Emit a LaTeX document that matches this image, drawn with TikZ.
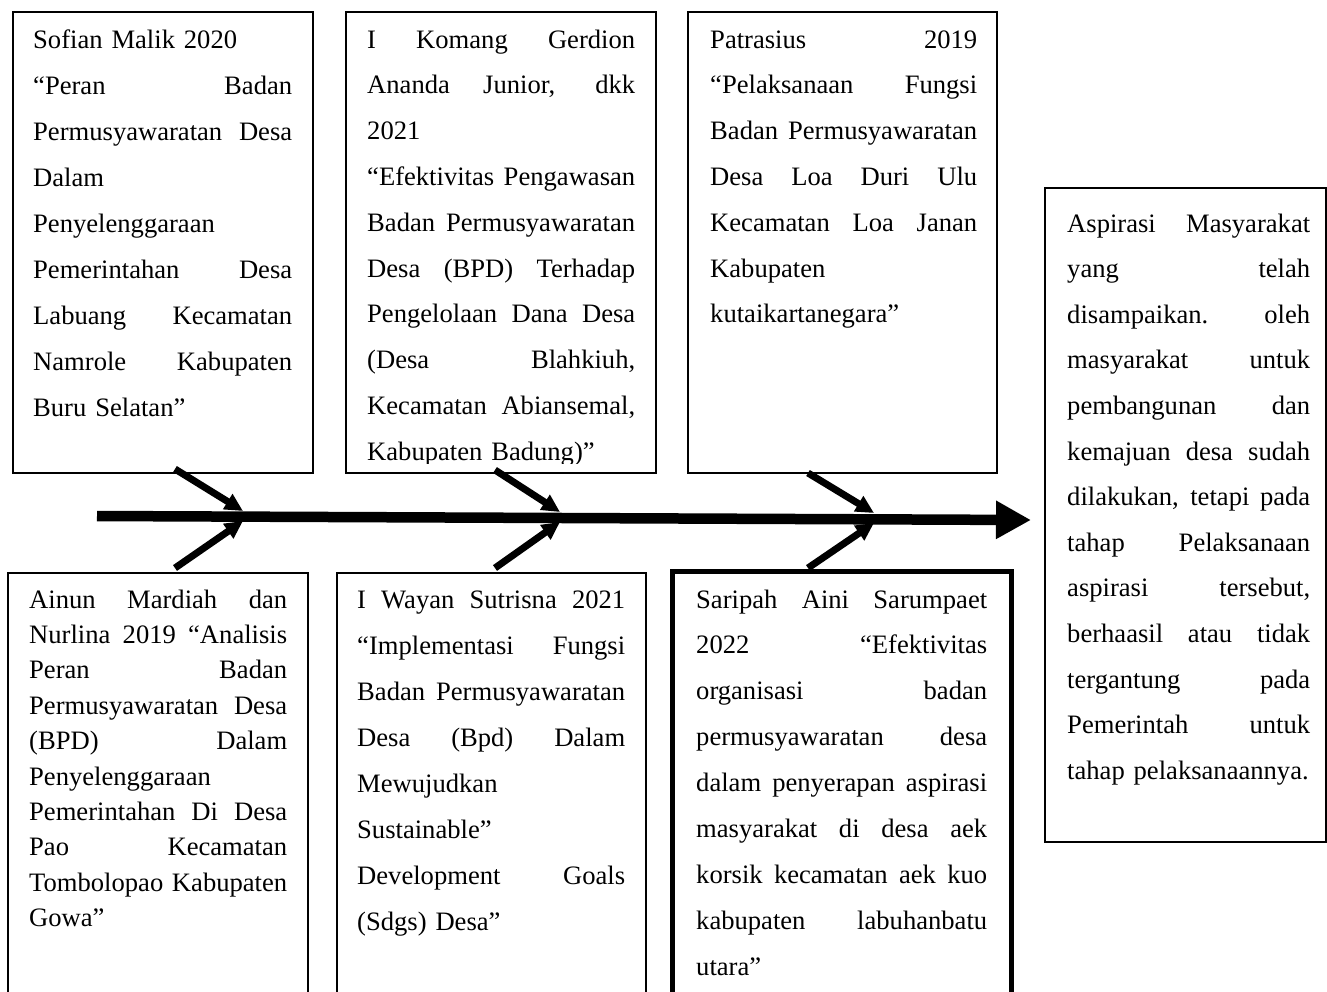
\documentclass[tikz,border=0pt]{standalone}
\usepackage{fontspec}
\setmainfont{Liberation Serif}
\usetikzlibrary{arrows.meta}
\newcommand{\J}[1]{{\spaceskip=0pt\xspaceskip=0pt\makebox[\hsize][s]{#1}}}
\tikzset{
  box/.style={draw=black,line width=1.5pt,fill=none},
  thickbox/.style={draw=black,line width=5pt,fill=none},
  txt/.style={anchor=base west,inner sep=0pt},
  bone/.style={line width=7pt,-{Triangle[length=18pt,width=17pt]}},
  spine/.style={line width=10.5pt,-{Triangle[length=35pt,width=36pt]}}
}
\begin{document}
\begin{tikzpicture}[x=1pt,y=-1pt]
\useasboundingbox (0,0) rectangle (1327,991);
\clip (0,0) rectangle (1327,991);
% boxes
\draw[box] (13,12) rectangle (313,473);
\draw[box] (346,12) rectangle (656,473);
\draw[box] (688,12) rectangle (997,473);
\draw[box] (8,573) rectangle (308,1010);
\draw[box] (337,573) rectangle (646,1010);
\draw[thickbox] (672,571) rectangle (1011,1010);
\draw[box] (1045,188) rectangle (1326,842);
% texts
\node[txt,text width=259pt,font=\fontsize{26.6}{46.1}\selectfont] (t1) at (33,48) {%
Sofian Malik 2020\\
\J{“Peran Badan}\\
\J{Permusyawaratan Desa}\\
Dalam\\
Penyelenggaraan\\
\J{Pemerintahan Desa}\\
\J{Labuang Kecamatan}\\
\J{Namrole Kabupaten}\\
Buru Selatan”};
\begin{scope}
\clip (346,12) rectangle (656,463);
\node[txt,text width=268pt,font=\fontsize{26.6}{45.8}\selectfont] (t2) at (367,48) {%
\J{I Komang Gerdion}\\
\J{Ananda Junior, dkk}\\
2021\\
\J{“Efektivitas Pengawasan}\\
\J{Badan Permusyawaratan}\\
\J{Desa (BPD) Terhadap}\\
\J{Pengelolaan Dana Desa}\\
\J{(Desa Blahkiuh,}\\
\J{Kecamatan Abiansemal,}\\
Kabupaten Badung)”};
\end{scope}
\node[txt,text width=267pt,font=\fontsize{26.6}{45.8}\selectfont] (t3) at (710,48) {%
\J{Patrasius 2019}\\
\J{“Pelaksanaan Fungsi}\\
\J{Badan Permusyawaratan}\\
\J{Desa Loa Duri Ulu}\\
\J{Kecamatan Loa Janan}\\
Kabupaten\\
kutaikartanegara”};
\node[txt,text width=258pt,font=\fontsize{26.6}{35.4}\selectfont] (t4) at (29,608) {%
\J{Ainun Mardiah dan}\\
\J{Nurlina 2019 “Analisis}\\
\J{Peran Badan}\\
\J{Permusyawaratan Desa}\\
\J{(BPD) Dalam}\\
Penyelenggaraan\\
\J{Pemerintahan Di Desa}\\
\J{Pao Kecamatan}\\
\J{Tombolopao Kabupaten}\\
Gowa”};
\node[txt,text width=268pt,font=\fontsize{26.6}{46}\selectfont] (t5) at (357,608) {%
\J{I Wayan Sutrisna 2021}\\
\J{“Implementasi Fungsi}\\
\J{Badan Permusyawaratan}\\
\J{Desa (Bpd) Dalam}\\
Mewujudkan\\
Sustainable”\\
\J{Development Goals}\\
(Sdgs) Desa”};
\node[txt,text width=291pt,font=\fontsize{26.6}{45.9}\selectfont] (t6) at (696,608) {%
\J{Saripah Aini Sarumpaet}\\
\J{2022 “Efektivitas}\\
\J{organisasi badan}\\
\J{permusyawaratan desa}\\
\J{dalam penyerapan aspirasi}\\
\J{masyarakat di desa aek}\\
\J{korsik kecamatan aek kuo}\\
\J{kabupaten labuhanbatu}\\
utara”};
\node[txt,text width=243pt,font=\fontsize{26.6}{45.6}\selectfont] (t7) at (1067,232) {%
\J{Aspirasi Masyarakat}\\
\J{yang telah}\\
\J{disampaikan. oleh}\\
\J{masyarakat untuk}\\
\J{pembangunan dan}\\
\J{kemajuan desa sudah}\\
\J{dilakukan, tetapi pada}\\
\J{tahap Pelaksanaan}\\
\J{aspirasi tersebut,}\\
\J{berhaasil atau tidak}\\
\J{tergantung pada}\\
\J{Pemerintah untuk}\\
tahap pelaksanaannya.};
% fishbone
\coordinate (u1) at (175,469);
\coordinate (d1) at (175,568);
\coordinate (m1u) at (243,511);
\coordinate (m1d) at (243,521);
\coordinate (u2) at (495,470);
\coordinate (d2) at (495,568);
\coordinate (m2u) at (560,512);
\coordinate (m2d) at (560,522);
\coordinate (u3) at (808,473);
\coordinate (d3) at (808,568);
\coordinate (m3u) at (874,513);
\coordinate (m3d) at (874,523);
\coordinate (s0) at (97,516);
\coordinate (s1) at (1031,520);
\draw[spine] (s0) -- (s1);
\draw[bone] (u1) -- (m1u);
\draw[bone] (d1) -- (m1d);
\draw[bone] (u2) -- (m2u);
\draw[bone] (d2) -- (m2d);
\draw[bone] (u3) -- (m3u);
\draw[bone] (d3) -- (m3d);
\end{tikzpicture}
\end{document}
